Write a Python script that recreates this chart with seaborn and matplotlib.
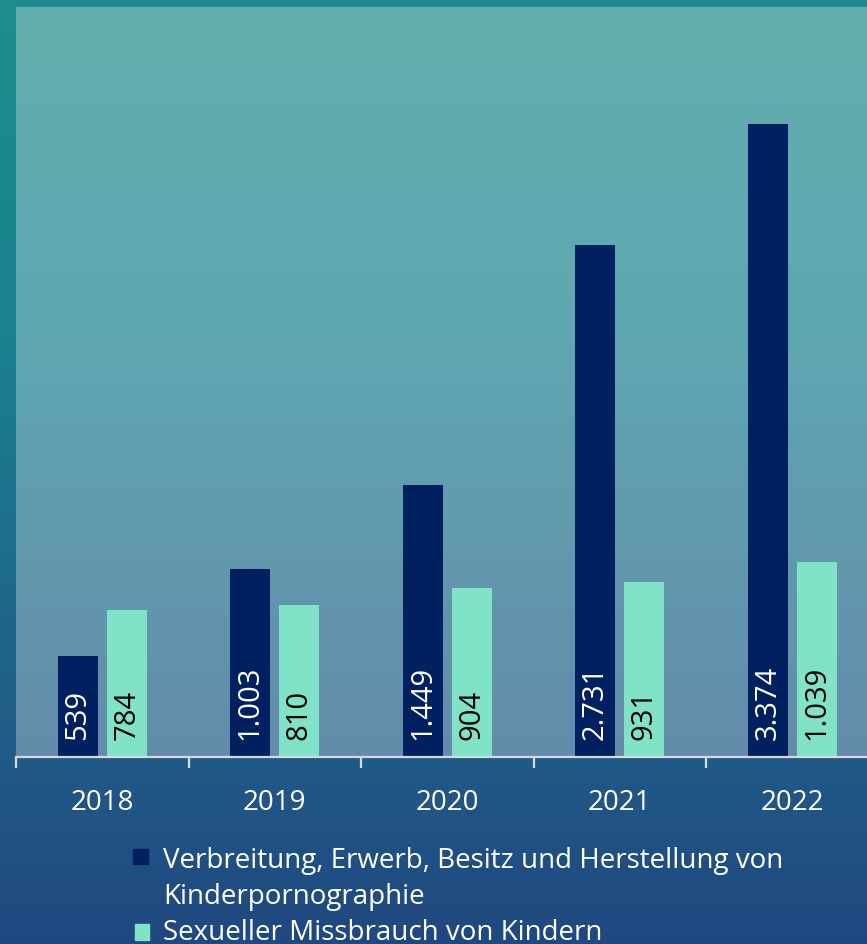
import numpy as np
import pandas as pd
import seaborn as sns
import matplotlib.pyplot as plt
from matplotlib.colors import LinearSegmentedColormap
from matplotlib.patches import Rectangle

# Data
years = ['2018', '2019', '2020', '2021', '2022']
kinderporno = [539, 1003, 1449, 2731, 3374]
missbrauch = [784, 810, 904, 931, 1039]
series_names = ['Verbreitung, Erwerb, Besitz und Herstellung von\nKinderpornographie',
                'Sexueller Missbrauch von Kindern']

df = pd.DataFrame({
    'Jahr': years * 2,
    'Fälle': kinderporno + missbrauch,
    'Delikt': [series_names[0]] * len(years) + [series_names[1]] * len(years),
})

sns.set_style('white')
plt.rcParams['font.family'] = ['Open Sans', 'DejaVu Sans']

W, H = 867, 945
fig = plt.figure(figsize=(W / 100, H / 100), dpi=100)

# background gradient
bg = fig.add_axes([0, 0, 1, 1], zorder=-2)
cmap = LinearSegmentedColormap.from_list('bg', [(0, '#1f8c8c'), (0.35, '#1a8290'),
                                                (0.8, '#215a87'), (1, '#1f4880')])
bg.imshow(np.linspace(0, 1, 256).reshape(-1, 1), cmap=cmap, aspect='auto',
          extent=[0, 1, 0, 1], origin='upper')
bg.axis('off')

# main axes: left 16px, top 8px, bottom axis at 758px
ax = fig.add_axes([16 / W, (H - 758) / H, 862.5 / W, 750 / H], zorder=1)
ax.set_facecolor((1, 1, 1, 0.3))

colors = ['#002060', '#80e3c8']
sns.barplot(data=df, x='Jahr', y='Fälle', hue='Delikt', palette=colors,
            width=0.568, gap=0.183, legend=False, ax=ax, saturation=1,
            linewidth=0, edgecolor='none')

ax.set_xlim(-0.5, 4.5)
ax.set_ylim(0, 4000)
ax.set_xlabel('')
ax.set_ylabel('')
ax.set_yticks([])

for s in ['top', 'right', 'left']:
    ax.spines[s].set_visible(False)
ax.spines['bottom'].set_color('#d9d9d9')
ax.spines['bottom'].set_linewidth(1.6)

ax.set_xticks(np.arange(-0.5, 5, 1), minor=True)
ax.tick_params(axis='x', which='minor', length=8, width=1.6, color='#d9d9d9',
               direction='out', bottom=True)
ax.tick_params(axis='x', which='major', length=0, pad=22, labelsize=20,
               labelcolor='white')

# value labels inside bars
text_colors = ['white', 'black']
for cont, tc in zip(ax.containers, text_colors):
    for bar in cont:
        v = bar.get_height()
        label = f'{int(v):,}'.replace(',', '.')
        ax.text(bar.get_x() + bar.get_width() / 2, 96, label, rotation=90,
                ha='center', va='bottom', color=tc, fontsize=21)

# legend
fig.patches.append(Rectangle((133 / W, 1 - 865 / H), 15 / W, 15 / H,
                             transform=fig.transFigure, color=colors[0], figure=fig))
fig.patches.append(Rectangle((135 / W, 1 - 941 / H), 14 / W, 16 / H,
                             transform=fig.transFigure, color=colors[1], figure=fig))
fig.text(163 / W, 1 - 861 / H, 'Verbreitung, Erwerb, Besitz und Herstellung von',
         color='white', fontsize=20, va='center', ha='left')
fig.text(163 / W, 1 - 897 / H, 'Kinderpornographie',
         color='white', fontsize=20, va='center', ha='left')
fig.text(163 / W, 1 - 933 / H, 'Sexueller Missbrauch von Kindern',
         color='white', fontsize=20, va='center', ha='left')

fig.savefig('out.png', dpi=100)
